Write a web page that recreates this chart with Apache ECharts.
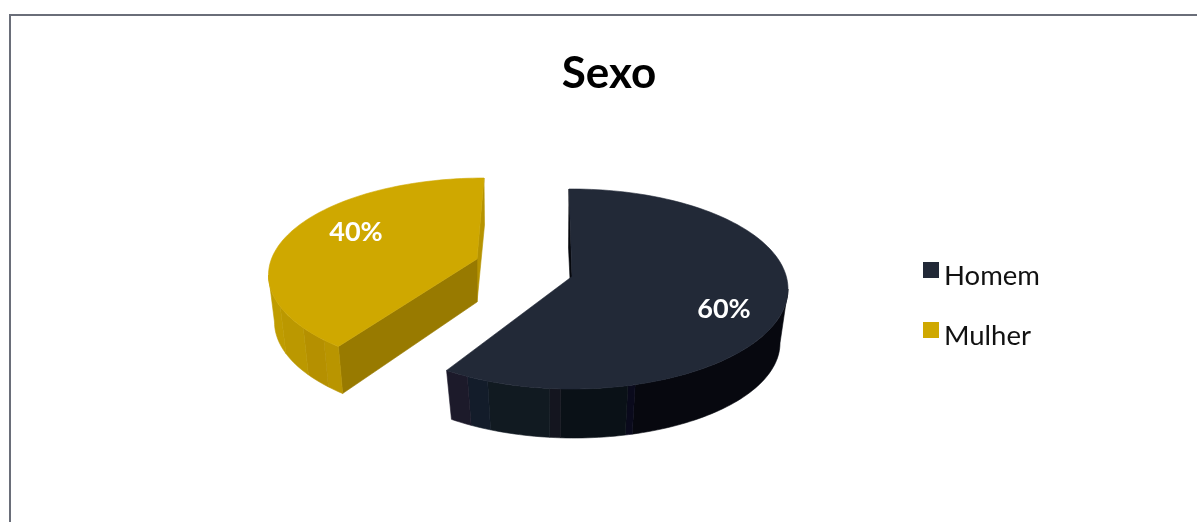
<!DOCTYPE html>
<html>
<head>
<meta charset="utf-8">
<style>html,body{margin:0;padding:0;background:#fff}#c{width:1197px;height:522px}</style>
<script src="https://cdn.jsdelivr.net/npm/echarts@6/dist/echarts.min.js"></script>
</head>
<body>
<div id="c"></div>
<script>
const categories = ['Homem', 'Mulher'];
const shares = [60, 40];
const chartTitle = 'Sexo';

// Look of each exploded slice (projection of the tilted disc, not data)
const looks = [
  {
    top: '#222937', startFace: '#05070c', endFace: null,
    apex: [572, 276.5], rim: { cx: 572, cy: 289, rx: 216, ry: 100 },
    floor: { cx: 574, cy: 343, rx: 206, ry: 95 }, apexDrop: 44,
    startTweak: -0.8, endTweak: -0.5, floorTweak: 1.0, label: [724, 309],
    bands: [[90, 163, '#07080f'], [163, 165, '#0a0a1c'], [165, 183, '#0a1117'], [183, 186, '#14151f'],
            [186, 203, '#111a21'], [203, 209, '#131c2a'], [209, 216, '#1c1a2a']]
  },
  {
    top: '#cfa800', startFace: '#987a00', endFace: '#b69300',
    apex: [477, 259], rim: { cx: 484, cy: 275, rx: 215.5, ry: 97 },
    floor: { cx: 484.5, cy: 322, rx: 210, ry: 97 }, apexDrop: 43,
    startTweak: 6.5, endTweak: 0, floorTweak: 0, label: [356, 232],
    bands: [[222.5, 228, '#b99500'], [228, 237, '#b59000'], [237, 251, '#bb9800'], [251, 270, '#bf9c00']]
  }
];

const total = shares.reduce((a, b) => a + b, 0);
function onEllipse(e, deg) {
  const t = deg * Math.PI / 180;
  return [e.cx + e.rx * Math.sin(t), e.cy - e.ry * Math.cos(t)];
}
function arc(e, from, to, map) {
  const pts = [], n = Math.max(2, Math.ceil(Math.abs(to - from) / 1.5));
  for (let i = 0; i <= n; i++) {
    const d = from + (to - from) * i / n;
    pts.push(onEllipse(e, map ? map(d) : d));
  }
  return pts;
}
function poly(points, fill, z2) {
  return { type: 'polygon', z2: z2, shape: { points: points }, style: { fill: fill, stroke: fill, lineWidth: 0.6 } };
}
function sliceRenderer(index) {
  const before = shares.slice(0, index).reduce((a, b) => a + b, 0);
  const s = looks[index];
  return function (params, api) {
    const value = api.value(0);
    const start = before / total * 360 + s.startTweak;
    const end = (before + value) / total * 360 + s.endTweak;
    const wallLow = Math.max(start, s.bands[0][0]);
    const wallHigh = Math.min(end, s.bands[s.bands.length - 1][1]);
    const floorMap = d => d + s.floorTweak * (d - wallLow) / Math.max(1, wallHigh - wallLow);
    const floorApex = [s.apex[0], s.apex[1] + s.apexDrop];
    const kids = [];
    // flat faces where the slice was cut out of the disc
    if (s.endFace) {
      kids.push(poly([onEllipse(s.rim, end), s.apex, floorApex, onEllipse(s.floor, floorMap(end))], s.endFace, 1));
    }
    if (s.startFace) {
      kids.push(poly([onEllipse(s.rim, start), s.apex, floorApex, onEllipse(s.floor, floorMap(start))], s.startFace, 2));
    }
    // outer wall
    s.bands.forEach(b => {
      const a0 = Math.max(b[0], start), a1 = Math.min(b[1], end);
      if (a1 <= a0) return;
      kids.push(poly(arc(s.rim, a0, a1).concat(arc(s.floor, a1, a0, floorMap)), b[2], 3));
    });
    // top surface
    kids.push(poly([s.apex].concat(arc(s.rim, start, end)), s.top, 4));
    kids.push({
      type: 'text', z2: 5, x: s.label[0], y: s.label[1],
      style: {
        text: Math.round(value / total * 100) + '%', fill: '#fff',
        font: 'bold 27px Lato', align: 'center', verticalAlign: 'middle'
      }
    });
    return { type: 'group', children: kids };
  };
}

const chart = echarts.init(document.getElementById('c'), null, { renderer: 'canvas' });
chart.setOption({
  animation: false,
  title: {
    text: chartTitle, left: 604, top: 47, textAlign: 'center',
    textStyle: { fontFamily: 'Lato', fontWeight: 'bold', fontSize: 44, color: '#000' }
  },
  legend: {
    data: categories, orient: 'vertical', left: 923, top: 262,
    icon: 'rect', itemWidth: 16, itemHeight: 16, itemGap: 32, padding: 0,
    selectedMode: false,
    formatter: '{t|{name}}',
    textStyle: {
      rich: { t: { fontFamily: 'Lato', fontSize: 27.5, color: '#111', padding: [12, 0, 0, 0] } }
    }
  },
  graphic: [{
    type: 'rect', silent: true,
    shape: { x: 10, y: 15, width: 1400, height: 800 },
    style: { fill: 'none', stroke: '#6a6e79', lineWidth: 2 }
  }],
  series: categories.map((name, i) => ({
    type: 'custom', name: name, coordinateSystem: 'none', silent: true,
    itemStyle: { color: looks[i].top },
    renderItem: sliceRenderer(i),
    data: [[shares[i]]]
  }))
});
</script>
</body>
</html>
